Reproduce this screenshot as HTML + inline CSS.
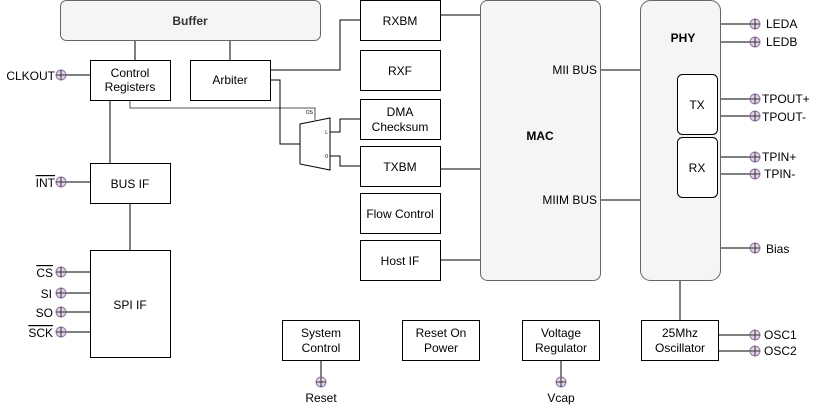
<!DOCTYPE html>
<html><head><style>body{margin:0;background:#fff}svg{display:block}</style></head><body>
<svg width="819" height="408" viewBox="0 0 819 408" xmlns="http://www.w3.org/2000/svg" font-family="Liberation Sans, Arial, sans-serif" font-size="12">
<defs>
<g id="pin"><circle r="5" fill="#e1d5e7" stroke="#9673a6"/><line x1="-5" y1="0" x2="5" y2="0" stroke="#333"/><line x1="0" y1="-5" x2="0" y2="5" stroke="#333"/></g>
</defs>
<g stroke="#000" fill="none" stroke-width="1">
<!-- connectors -->
<path d="M135 40V60M230 40V60"/>
<path d="M66 75H90M66 182H90M66 272H90M66 293H90M66 312H90M66 332H90"/>
<path d="M110 100V163M130 203V250"/>
<path d="M130 100V108H315V120" stroke="#555"/>
<path d="M270 80H280V144H300"/>
<path d="M270 70H340V20H360"/>
<path d="M330 132H340V119H360M330 156H340V166H360"/>
<path d="M440 15H480M440 169H480M440 260H480"/>
<path d="M600 70H640M600 200H640"/>
<path d="M720 24H750M720 42H750M717 99H750M717 116H750M717 157H750M717 174H750M720 248H750"/>
<path d="M680 280V320M718 335H750M718 351H750"/>
<path d="M321 360V377M561 360V377"/>
<!-- boxes -->
<rect x="60.5" y="0.5" width="260" height="40" rx="6" fill="#f5f5f5" stroke="#666"/>
<rect x="90.5" y="60.5" width="80" height="40" fill="#fff"/>
<rect x="190.5" y="60.5" width="80" height="40" fill="#fff"/>
<rect x="90.5" y="163.5" width="80" height="40" fill="#fff"/>
<rect x="90.5" y="250.5" width="80" height="107" fill="#fff"/>
<rect x="360.5" y="0.5" width="80" height="40" fill="#fff"/>
<rect x="360.5" y="50.5" width="80" height="40" fill="#fff"/>
<rect x="360.5" y="99.5" width="80" height="40" fill="#fff"/>
<rect x="360.5" y="146.5" width="80" height="40" fill="#fff"/>
<rect x="360.5" y="193.5" width="80" height="40" fill="#fff"/>
<rect x="360.5" y="240.5" width="80" height="40" fill="#fff"/>
<rect x="480.5" y="0.5" width="120" height="280" rx="7" fill="#f5f5f5" stroke="#666"/>
<rect x="640.5" y="0.5" width="80" height="280" rx="10" fill="#f5f5f5" stroke="#666"/>
<rect x="677.5" y="74.5" width="40" height="60" rx="5" fill="#fff"/>
<rect x="677.5" y="137.5" width="40" height="60" rx="5" fill="#fff"/>
<rect x="641.5" y="320.5" width="77" height="40" fill="#fff"/>
<rect x="282.5" y="320.5" width="77" height="40" fill="#fff"/>
<rect x="402.5" y="320.5" width="77" height="40" fill="#fff"/>
<rect x="522.5" y="320.5" width="77" height="40" fill="#fff"/>
<path d="M300 124L330 118V170L300 164Z" fill="#fff"/>
</g>
<g>
<use href="#pin" x="61" y="75"/><use href="#pin" x="61" y="182"/>
<use href="#pin" x="61" y="272"/><use href="#pin" x="61" y="293"/><use href="#pin" x="61" y="312"/><use href="#pin" x="61" y="332"/>
<use href="#pin" x="755" y="24"/><use href="#pin" x="755" y="42"/><use href="#pin" x="755" y="99"/><use href="#pin" x="755" y="116"/>
<use href="#pin" x="755" y="157"/><use href="#pin" x="755" y="174"/><use href="#pin" x="755" y="248"/>
<use href="#pin" x="755" y="335"/><use href="#pin" x="755" y="351"/>
<use href="#pin" x="321" y="382"/><use href="#pin" x="561" y="382"/>
</g>
<g fill="#000" text-anchor="middle">
<text x="190" y="25" font-weight="bold" fill="#333">Buffer</text>
<text x="130" y="77">Control</text><text x="130" y="91">Registers</text>
<text x="230" y="84">Arbiter</text>
<text x="130" y="188">BUS IF</text>
<text x="130" y="309">SPI IF</text>
<text x="400" y="25">RXBM</text><text x="400" y="75">RXF</text>
<text x="400" y="116">DMA</text><text x="400" y="131">Checksum</text>
<text x="400" y="171">TXBM</text><text x="400" y="218">Flow Control</text><text x="400" y="265">Host IF</text>
<text x="540" y="140" font-weight="bold">MAC</text>
<text x="683" y="42" font-weight="bold">PHY</text>
<text x="697" y="109">TX</text><text x="697" y="172">RX</text>
<text x="680" y="337">25Mhz</text><text x="680" y="352">Oscillator</text>
<text x="321" y="337">System</text><text x="321" y="352">Control</text>
<text x="441" y="337">Reset On</text><text x="441" y="352">Power</text>
<text x="561" y="337">Voltage</text><text x="561" y="352">Regulator</text>
<text x="321" y="402">Reset</text><text x="561" y="402">Vcap</text>
</g>
<g fill="#000" text-anchor="end">
<text x="597" y="74">MII BUS</text><text x="597" y="204">MIIM BUS</text>
<text x="55" y="80">CLKOUT</text>
<text x="55" y="187" text-decoration="overline">INT</text>
<text x="53" y="277" text-decoration="overline">CS</text>
<text x="52" y="298">SI</text>
<text x="53" y="317">SO</text>
<text x="53" y="337" text-decoration="overline">SCK</text>
<text x="313" y="114" font-size="5">OS</text>
<text x="328" y="134" font-size="5">L</text>
<text x="328" y="158" font-size="5">0</text>
</g>
<g fill="#000">
<text x="766" y="28">LEDA</text><text x="766" y="46">LEDB</text>
<text x="762" y="103">TPOUT+</text><text x="762" y="121">TPOUT-</text>
<text x="762" y="161">TPIN+</text><text x="764" y="178">TPIN-</text>
<text x="766" y="253">Bias</text>
<text x="764" y="339">OSC1</text><text x="764" y="355">OSC2</text>
</g>
</svg>
</body></html>
